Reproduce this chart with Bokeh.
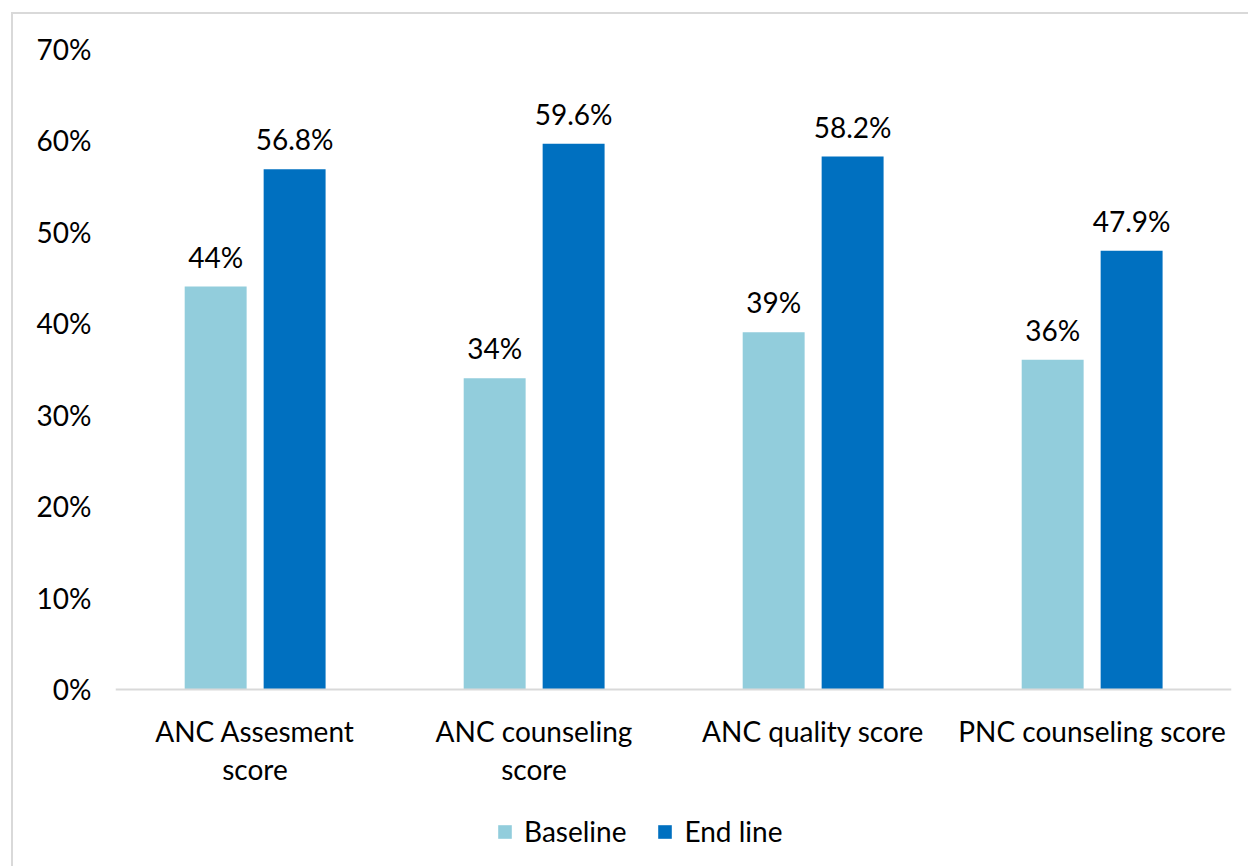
from bokeh.plotting import figure
from bokeh.models import ColumnDataSource, FactorRange, NumeralTickFormatter, FixedTicker, Legend, LegendItem, LabelSet, Span
from bokeh.core.properties import value
from bokeh.transform import dodge
from bokeh.embed import file_html
from bokeh.resources import INLINE

categories = ["ANC Assesment score", "ANC counseling score", "ANC quality score", "PNC counseling score"]
category_labels = ["ANC Assesment\nscore", "ANC counseling\nscore", "ANC quality score", "PNC counseling score"]
baseline = [0.44, 0.34, 0.39, 0.36]
endline = [0.568, 0.596, 0.582, 0.479]
baseline_labels = ["44%", "34%", "39%", "36%"]
endline_labels = ["56.8%", "59.6%", "58.2%", "47.9%"]
y_ticks = [0, 0.1, 0.2, 0.3, 0.4, 0.5, 0.6, 0.7]

FONT = "Lato"
C_BASE = "#92CDDC"
C_END = "#0070C0"

line1 = [s.split("\n")[0] for s in category_labels]
line2 = [s.split("\n")[1] if "\n" in s else "" for s in category_labels]

src = ColumnDataSource(dict(cat=categories, l1=line1, l2=line2, zero=[0] * 4,
                            base=baseline, end=endline,
                            base_lbl=baseline_labels, end_lbl=endline_labels))

# frame extends below the zero line so that category labels and legend stay inside it
p = figure(x_range=FactorRange(factors=categories, range_padding=0), y_range=(-0.1846, 0.70),
           width=1237, height=854, output_backend="svg", toolbar_location=None,
           x_axis_location=None,
           min_border_left=102, min_border_right=19, min_border_top=34, min_border_bottom=10)
p.margin = (12, 0, 0, 11)
p.styles = {"border-top": "2px solid #D9D9D9", "border-left": "2px solid #D9D9D9",
            "box-sizing": "border-box"}
p.outline_line_color = None
p.background_fill_color = "white"
p.border_fill_color = "white"
p.grid.grid_line_color = None

r1 = p.vbar(x=dodge("cat", -0.141, range=p.x_range), top="base", width=0.222, source=src,
            fill_color=C_BASE, line_color=None)
r2 = p.vbar(x=dodge("cat", 0.142, range=p.x_range), top="end", width=0.222, source=src,
            fill_color=C_END, line_color=None)

p.add_layout(Span(location=0, dimension="width", line_color="#D9D9D9", line_width=2))

for col, top, off in (("base_lbl", "base", -0.141), ("end_lbl", "end", 0.142)):
    ls = LabelSet(x=dodge("cat", off, range=p.x_range), y=top, text=col, source=src,
                  text_align="center", text_baseline="bottom", y_offset=13,
                  text_font=value(FONT), text_font_size="28px", text_color="#000000")
    p.add_layout(ls)

for col, off in (("l1", -53), ("l2", -91)):
    xl = LabelSet(x="cat", y="zero", text=col, source=src,
                  text_align="center", text_baseline="alphabetic", y_offset=off,
                  text_font=value(FONT), text_font_size="28px", text_color="#000000")
    p.add_layout(xl)

p.yaxis.ticker = FixedTicker(ticks=y_ticks)
p.yaxis.formatter = NumeralTickFormatter(format="0%")
p.yaxis.axis_line_color = None
p.yaxis.major_tick_line_color = None
p.yaxis.minor_tick_line_color = None
p.yaxis.major_label_text_font = FONT
p.yaxis.major_label_text_font_size = "28px"
p.yaxis.major_label_text_color = "#000000"
p.yaxis.major_label_standoff = 18

legend = Legend(items=[LegendItem(label="Baseline", renderers=[r1]),
                       LegendItem(label="End line", renderers=[r2])],
                orientation="horizontal", location=(381, 10),
                label_text_font=FONT, label_text_font_size="28px", label_text_color="#000000",
                glyph_width=17, glyph_height=17, label_standoff=11, spacing=30,
                padding=0, margin=0, border_line_color=None, background_fill_alpha=0)
p.add_layout(legend, "center")

open("out.html", "w").write(file_html(p, INLINE))
